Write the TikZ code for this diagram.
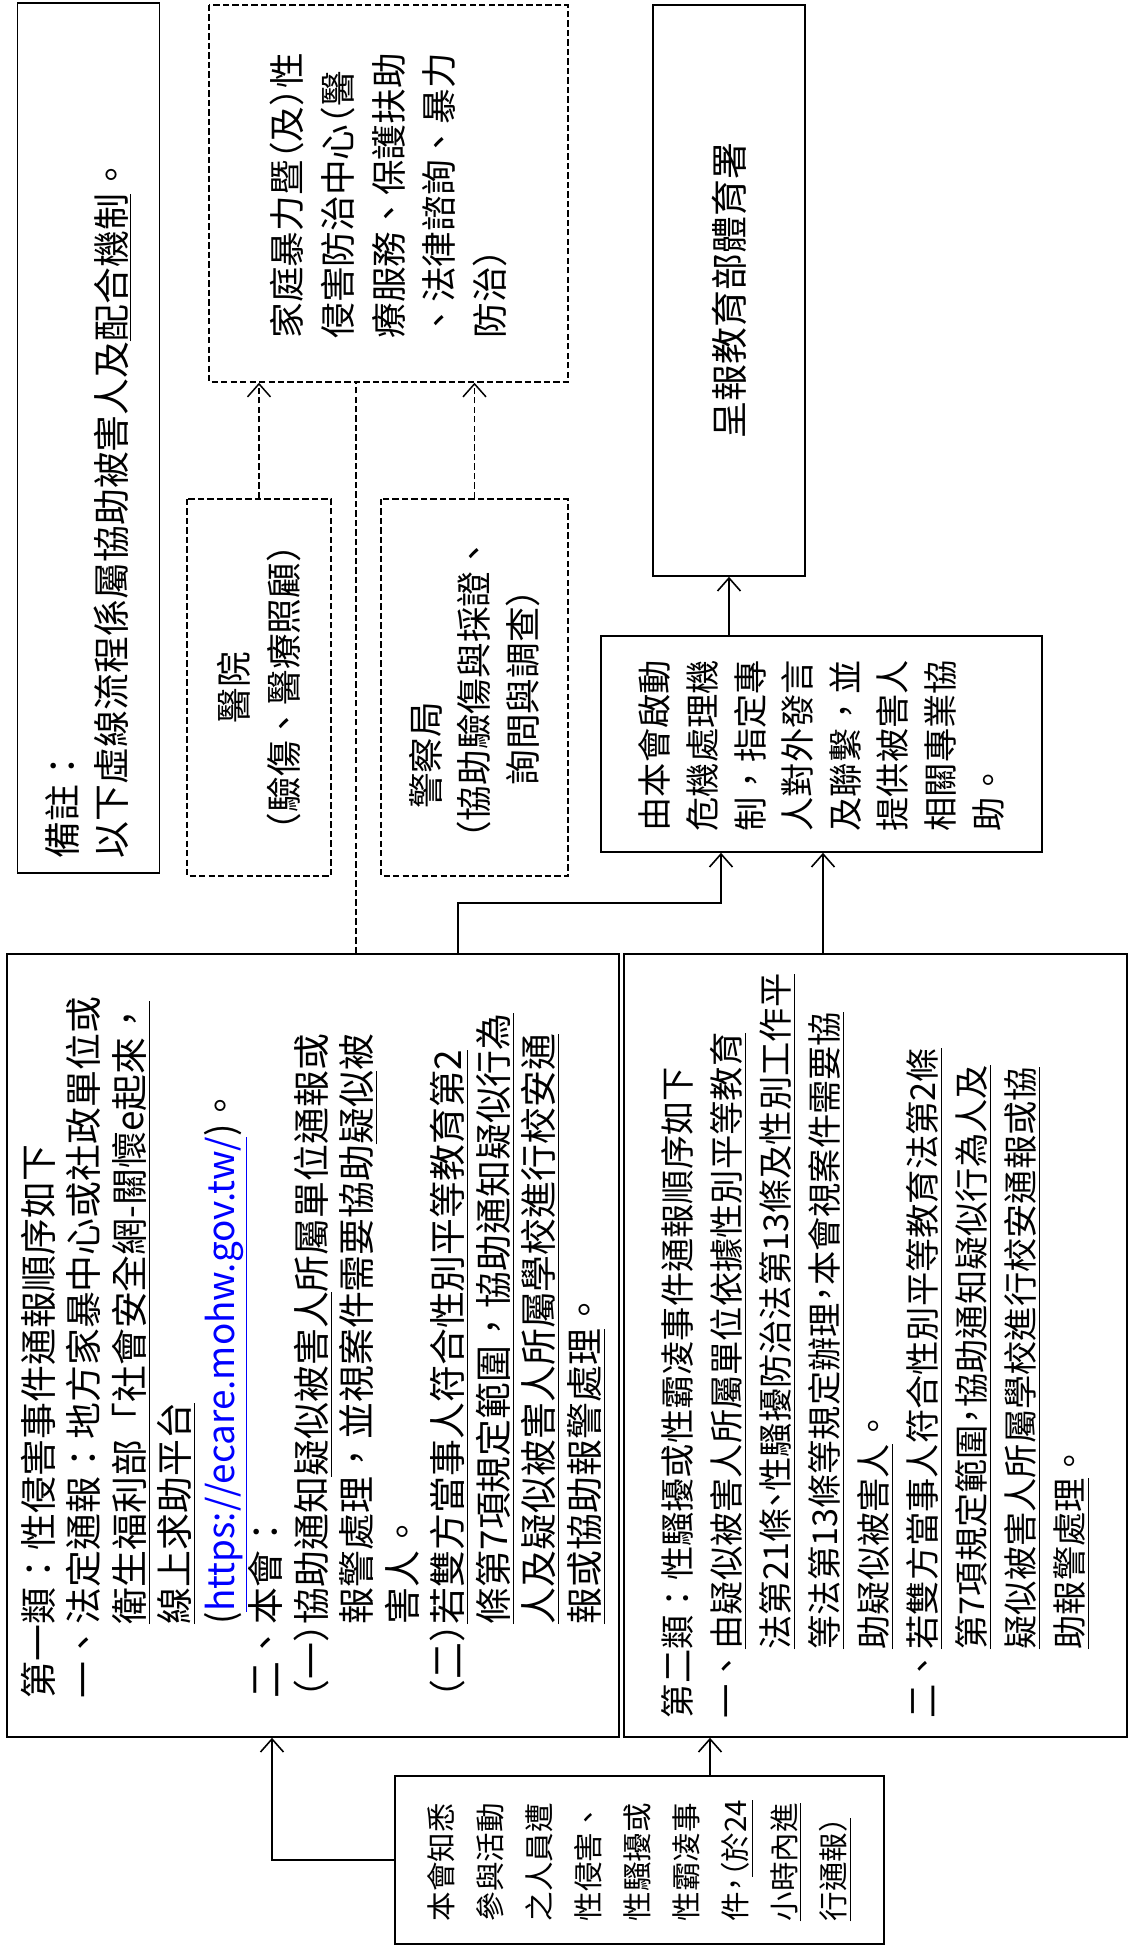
\documentclass[tikz,border=0pt]{standalone}
\usepackage{fontspec}
\setmainfont{Noto Sans CJK TC}
\usepackage{xcolor}
\usepackage{tikz}
\usetikzlibrary{arrows.meta}
\definecolor{linkblue}{RGB}{0, 0, 255}
\newcommand{\hw}[1]{{\addfontfeature{RawFeature=+halt}#1}}
\newcommand{\lp}{\hw{（}}
\newcommand{\rp}{\hw{）}}

\begin{document}
\begin{tikzpicture}[
    box/.style={rectangle, draw, line width=0.9pt, rotate=90, inner sep=0pt, text=black},
    dashbox/.style={box, line width=0.85pt, dash pattern=on 3.6pt off 1.8pt},
    arrow/.style={line width=0.9pt, ->, >={Straight Barb[length=2.6mm, width=4.6mm]}},
    dasharrow/.style={arrow, line width=0.85pt, dash pattern=on 3.6pt off 1.8pt},
    dashline/.style={line width=0.85pt, dash pattern=on 3.6pt off 1.8pt}
]
\useasboundingbox (0,0) rectangle (22.56,-39.02);

% 備註與協助單位
\node [box, minimum width=17.41cm, minimum height=2.84cm, text width=16.8cm, align=left, font=\fontsize{21pt}{28pt}\selectfont] (note) at (1.77,-8.76) {備註：\\以下虛線流程係屬協助被害人及\underline{配合機制}。};
\node [dashbox, minimum width=7.54cm, minimum height=7.18cm, text width=5.8cm, align=left, font=\fontsize{20.3pt}{28.9pt}\selectfont] (dv) at (7.77,-3.87) {家庭暴力暨\lp 及\rp 性\\侵害防治中心\lp 醫\\療服務、保護扶助\\、法律諮詢、暴力\\防治\rp};
\node [dashbox, minimum width=7.54cm, minimum height=2.88cm, text width=6.3cm, align=center, font=\fontsize{20.3pt}{28pt}\selectfont] (hosp) at (5.18,-13.75) {醫院\\\lp 驗傷、醫療照顧\rp};
\node [dashbox, minimum width=7.54cm, minimum height=3.74cm, text width=6.3cm, align=center, font=\fontsize{20.3pt}{27.6pt}\selectfont] (police) at (9.49,-13.75) {\makebox[6.8em][l]{警察局}\\\lp 協助驗傷與採證、\\詢問與調查\rp};

% 本會處理
\node [box, minimum width=11.42cm, minimum height=3.04cm, align=center, font=\fontsize{21pt}{26pt}\selectfont] (ministry) at (14.58,-5.81) {呈報教育部體育署};
\node [box, minimum width=4.32cm, minimum height=8.82cm, text width=3.5cm, align=left, font=\fontsize{19.5pt}{27.1pt}\selectfont] (crisis) at (16.43,-14.88) {由本會啟動\\危機處理機\\制，指定專\\人對外發言\\及聯繫，並\\提供被害人\\相關專業協\\助。};

% 通報順序
\node [box, minimum width=15.66cm, minimum height=12.23cm, text width=14.1cm, align=left, font=\fontsize{21pt}{25.9pt}\selectfont] (cat1) at (6.26,-26.91) {第一類：性侵害事件通報順序如下\\一、法定通報：地方家暴中心或社政單位或\\\phantom{一、}\underline{衛生福利部「社會安全網-關懷e起來，}\\\phantom{一、}\underline{線上求助平台}\\\phantom{一、}(\textcolor{linkblue}{\underline{https://ecare.mohw.gov.tw/}})。\\二、本會：\\\lp 一\rp 協助通知\underline{疑似被害人}所屬單位通報或\\\phantom{\lp 一\rp}報警處理，並視案件需要協助\underline{疑似}被\\\phantom{\lp 一\rp}害人。\\\lp 二\rp \underline{若雙方當事人符合性別平等教育第2}\\\phantom{\lp 二\rp}\underline{條第7項規定範圍，協助通知疑似行為}\\\phantom{\lp 二\rp}\underline{人及疑似被害人所屬學校進行校安通}\\\phantom{\lp 二\rp}\underline{報或協助報警處理}。};
\node [box, minimum width=15.66cm, minimum height=10.06cm, text width=14.9cm, align=left, font=\fontsize{19.5pt}{27.9pt}\selectfont] (cat2) at (17.51,-26.91) {第二類：性騷擾或性霸凌事件通報順序如下\\一、\underline{由疑似被害人所屬單位依據性別平等教育}\\\phantom{一、}\underline{法第21條\hw{、}性騷擾防治法第13條及性別工作平}\\\phantom{一、}\underline{等法第13條等規定辦理\hw{，}本會視案件需要協}\\\phantom{一、}\underline{助疑似被害人}。\\二、\underline{若雙方當事人符合性別平等教育法第2條}\\\phantom{二、}\underline{第7項規定範圍\hw{，}協助通知疑似行為人及}\\\phantom{二、}\underline{疑似被害人所屬學校進行校安通報或協}\\\phantom{二、}\underline{助報警處理}。};
\node [box, minimum width=3.36cm, minimum height=9.78cm, text width=2.45cm, align=left, font=\fontsize{16.8pt}{27.9pt}\selectfont] (report) at (12.79,-37.2) {本會知悉\\參與活動\\之人員遭\\性侵害、\\性騷擾或\\性霸凌事\\件\hw{，}\underline{\lp 於24}\\\underline{小時內進}\\\underline{行通報\rp}};

% 連接線
\coordinate (c1in) at ([xshift=-0.82cm]cat1.west);
\coordinate (c2in) at ([xshift=-3.31cm]cat2.west);
\coordinate (c1out) at ([xshift=2.9cm]cat1.east);
\coordinate (c2out) at ([xshift=-1.05cm]cat2.east);
\coordinate (crin) at ([xshift=-2.01cm]crisis.west);
\coordinate (dvin) at ([xshift=-0.65cm]dv.west);

\draw [arrow] (report.north) -| (c1in);
\draw [arrow] (c2in |- report.east) -- (c2in);
\draw [arrow] (c1out) -- ++(0,1) -| (crin);
\draw [arrow] (c2out) -- (c2out |- crisis.west);
\draw [arrow] (crisis.east -| ministry.west) -- (ministry.west);

\draw [dashline] (dvin |- cat1.east) -- (dvin);
\draw [dasharrow] (hosp.east) -- (hosp.east |- dv.west);
\draw [dasharrow] (police.east) -- (police.east |- dv.west);

\end{tikzpicture}
\end{document}
